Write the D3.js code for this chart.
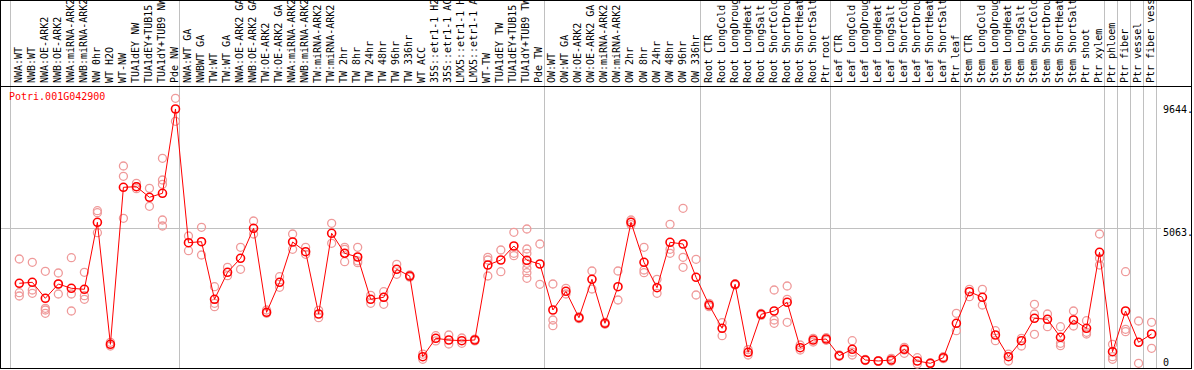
<!DOCTYPE html>
<html>
<head>
<meta charset="utf-8">
<script src="https://cdn.jsdelivr.net/npm/d3@7"></script>
<style>
  body { margin: 0; background: #fff; }
  svg { display: block; font-family: "DejaVu Sans Mono", monospace; font-size: 10px; }
</style>
</head>
<body>
<div class="container"></div>
<script>
var geneName = 'Potri.001G042900';

var samples = [
  'NWA:WT', 'NWB:WT', 'NWA:OE-ARK2', 'NWB:OE-ARK2', 'NWA:miRNA-ARK2', 'NWB:miRNA-ARK2',
  'NW 0hr', 'WT H2O', 'WT-NW', 'TUA1dEY NW', 'TUA1dEY+TUB15 NW', 'TUA1dY+TUB9 NW', 'Pde NW',
  'NWA:WT GA', 'NWBWT GA', 'TW:WT', 'TW:WT GA', 'NWA:OE-ARK2 GA', 'NWB:OE-ARK2 GA',
  'TW:OE-ARK2', 'TW:OE-ARK2 GA', 'NWA:miRNA-ARK2', 'NWB:miRNA-ARK2', 'TW:miRNA-ARK2',
  'TW:miRNA-ARK2', 'TW 2hr', 'TW 8hr', 'TW 24hr', 'TW 48hr', 'TW 96hr', 'TW 336hr',
  'WT ACC', '35S::etr1-1 H2O', '35S::etr1-1 ACC', 'LMX5::etr1-1 H2O', 'LMX5::etr1-1 ACC',
  'WT-TW', 'TUA1dEY TW', 'TUA1dEY+TUB15 TW', 'TUA1dY+TUB9 TW', 'Pde TW',
  'OW:WT', 'OW:WT GA', 'OW:OE-ARK2', 'OW:OE-ARK2 GA', 'OW:miRNA-ARK2', 'OW:miRNA-ARK2',
  'OW 2hr', 'OW 8hr', 'OW 24hr', 'OW 48hr', 'OW 96hr', 'OW 336hr',
  'Root CTR', 'Root LongCold', 'Root LongDrought', 'Root LongHeat', 'Root LongSalt',
  'Root ShortCold', 'Root ShortDrought', 'Root ShortHeat', 'Root ShortSalt', 'Ptr root',
  'Leaf CTR', 'Leaf LongCold', 'Leaf LongDrought', 'Leaf LongHeat', 'Leaf LongSalt',
  'Leaf ShortCold', 'Leaf ShortDrought', 'Leaf ShortHeat', 'Leaf ShortSalt', 'Ptr leaf',
  'Stem CTR', 'Stem LongCold', 'Stem LongDrought', 'Stem LongHeat', 'Stem LongSalt',
  'Stem ShortCold', 'Stem ShortDrought', 'Stem ShortHeat', 'Stem ShortSalt', 'Ptr shoot',
  'Ptr xylem', 'Ptr phloem', 'Ptr fiber', 'Ptr vessel', 'Ptr fiber vessel'
];

var means = [
  3020, 3057, 2463, 2994, 2835, 2797, 5286, 754, 6587, 6609, 6215, 6364, 9496,
  4529, 4566, 2426, 3429, 3949, 5064, 1943, 3057, 4555, 4194, 1880, 4878, 4135, 3997,
  2426, 2500, 3540, 3291, 293, 977, 914, 888, 914, 3700, 3886, 4406, 3875, 3737,
  2028, 2723, 1742, 3169, 1534, 2894, 5286, 3800, 2857, 4543, 4480, 3243,
  2214, 1349, 2983, 457, 1869, 1991, 2314, 628, 914, 951,
  331, 568, 171, 134, 171, 568, 134, 48, 256, 1534,
  2708, 2500, 1100, 293, 888, 1720, 1683, 1014, 1657, 1349, 4172,
  479, 1991, 828, 1137
];

var replicates = [
  [3923, 2671, 2549], [3800, 2771, 2649], [3466, 2092, 1906, 2028], [3403, 2623, 2994],
  [3971, 2623, 1991], [3429, 2560, 2426], [5717, 5643, 4900], [828, 691],
  [7378, 6995, 5435], [6735, 6535, 6609], [6550, 5881], [7664, 6858, 6698, 5372, 5149],
  [9893, 9039],
  [4777, 4231], [5101, 4072], [2894, 2151, 2277], [3615, 3303], [4358, 3540], [5335, 4852],
  [1906, 2028], [3265, 2872], [4852, 4283], [4358, 4098], [1742, 2017], [5249, 4506],
  [4358, 4283, 3823], [4358, 3786, 3850], [2277, 2575], [2708, 2240, 2500], [3726, 3355],
  [3250, 3291, 3330], [197, 389], [1074, 880], [1100, 765], [791, 988], [880, 950],
  [3986, 3886, 3291], [4257, 3451], [4915, 4135, 4046],
  [5038, 4295, 4135, 3763, 3578, 3414, 3206], [4480, 2983],
  [2994, 1657, 1445], [2835, 2623], [1779, 1705], [3477, 2809], [1571, 1497], [3477, 2400],
  [5372, 5286, 5200], [4358, 3514, 3414], [3169, 2649], [5212, 4283, 4135],
  [5807, 3986, 3615], [3912, 2586],
  [2277, 2151], [1557, 1074], [2957, 3006], [357, 557], [1830, 1900], [2771, 1657, 1534],
  [2920, 2426, 1571], [728, 542], [977, 840], [1000, 903],
  [357, 308], [888, 357, 460], [150, 190], [120, 150], [234, 134], [420, 643, 542],
  [256, 22], [30, 65], [293, 219], [1906, 1259],
  [2797, 2522], [2797, 2214], [1259, 888], [389, 134], [977, 691], [2240, 1880, 1126],
  [1880, 1408], [1408, 791, 702], [1991, 1434], [1631, 1200, 1137], [4852, 3949, 3700],
  [754, 293, 197], [3451, 1311, 1222], [1620, 48], [1571, 606]
];

// column indices where a vertical separator is drawn
var groupBreaks = [0, 13, 41, 53, 63, 73, 84, 85, 86, 87, 88];
var yTicks = [0, 5063, 9644];

const WIDTH = 1194;
const HEIGHT = 370;
const HEADER = 86;
const PLOT_BOTTOM = 368;
const AXIS_X = 1163;

var xScale = d3.scaleLinear()
    .domain([0, samples.length])
    .range([10.3, 1155.6]);

var yScale = d3.scaleLinear()
    .domain([0, 9644])
    .range([364.6, 105]);

var xPos = i => xScale(i) + 9;

var svg = d3.select('.container').append('svg')
    .attr('width', WIDTH)
    .attr('height', HEIGHT);

// group separators
svg.append('g').selectAll('line')
    .data(groupBreaks)
    .enter().append('line')
    .attr('x1', d => Math.round(xScale(d)) + 0.5)
    .attr('x2', d => Math.round(xScale(d)) + 0.5)
    .attr('y1', 0)
    .attr('y2', PLOT_BOTTOM)
    .attr('stroke', '#c0c0c0');

// horizontal reference line
svg.append('line')
    .attr('x1', 0)
    .attr('x2', AXIS_X - 2)
    .attr('y1', Math.round(yScale(5063)) + 0.5)
    .attr('y2', Math.round(yScale(5063)) + 0.5)
    .attr('stroke', '#c0c0c0');

// sample labels
svg.append('g').selectAll('text')
    .data(samples)
    .enter().append('text')
    .attr('transform', (d, i) => `translate(${xPos(i) + 2.5}, 83) rotate(-90)`)
    .attr('fill', '#000')
    .text(d => d);

// frame
svg.append('rect')
    .attr('x', 0.5)
    .attr('y', 0.5)
    .attr('width', 1191)
    .attr('height', PLOT_BOTTOM)
    .attr('fill', 'none')
    .attr('stroke', '#000');

svg.append('line')
    .attr('x1', 0)
    .attr('x2', 1192)
    .attr('y1', HEADER + 0.5)
    .attr('y2', HEADER + 0.5)
    .attr('stroke', '#000');

// y tick labels
svg.append('g').selectAll('text')
    .data(yTicks)
    .enter().append('text')
    .attr('x', AXIS_X)
    .attr('y', d => d === 0 ? yScale(d) + 1 : yScale(d) + 8)
    .text(d => d === 0 ? '0' : d + '.');

svg.append('text')
    .attr('x', 9)
    .attr('y', 100)
    .attr('fill', '#ff0000')
    .text(geneName);

var plot = svg.append('g');

// replicate circles
var reps = [];
replicates.forEach((r, i) => r.forEach(v => reps.push({ i: i, v: v })));

plot.append('g').selectAll('circle')
    .data(reps)
    .enter().append('circle')
    .attr('cx', d => xPos(d.i))
    .attr('cy', d => yScale(d.v))
    .attr('r', 4)
    .attr('fill', 'none')
    .attr('stroke', '#ef9a9a')
    .attr('stroke-width', 1.3);

var line = d3.line()
    .x((d, i) => xPos(i))
    .y(d => yScale(d));

plot.append('path')
    .attr('d', line(means))
    .attr('fill', 'none')
    .attr('stroke', '#ff0000')
    .attr('stroke-width', 1);

plot.append('g').selectAll('circle')
    .data(means)
    .enter().append('circle')
    .attr('cx', (d, i) => xPos(i))
    .attr('cy', d => yScale(d))
    .attr('r', 4)
    .attr('fill', 'none')
    .attr('stroke', '#ff0000')
    .attr('stroke-width', 1.6);
</script>
</body>
</html>
